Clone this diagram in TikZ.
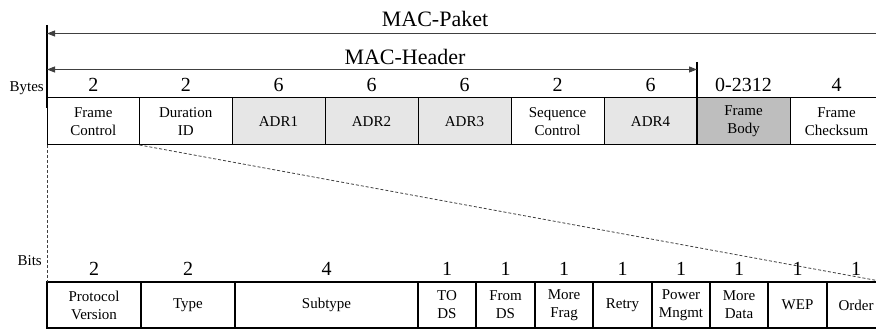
\documentclass[tikz,border=0pt]{standalone}
\usepackage{fontspec}
\setmainfont{Liberation Serif}
\usetikzlibrary{arrows.meta}
\definecolor{adrgrey}{HTML}{E6E6E6}
\definecolor{bodygrey}{HTML}{BEBEBE}
\definecolor{linegrey}{HTML}{404040}
\begin{document}
\begin{tikzpicture}[x=1pt,y=-1pt,
  field/.style={draw=black, line width=1pt, inner sep=0pt, outer sep=0pt,
    align=center, font=\fontsize{15}{18}\selectfont},
  bitfield/.style={field, line width=1.4pt},
  count/.style={anchor=base, inner sep=0pt, font=\fontsize{20}{24}\selectfont},
  rowlabel/.style={anchor=base east, inner sep=0pt, font=\fontsize{15}{18}\selectfont},
  title/.style={anchor=base, inner sep=0pt, font=\fontsize{22}{26}\selectfont},
  span/.style={draw=linegrey, line width=1pt},
  tip/.style={-{Triangle[length=8pt,width=6pt]}},
  zoomline/.style={draw=linegrey, line width=0.8pt, dash pattern=on 3pt off 2pt}]
\useasboundingbox (0,0) rectangle (876,331);
\clip (0,0) rectangle (876,331);

% MAC frame: byte fields
\foreach \a/\b/\txt/\col/\n [count=\i] in {
  47/139.5/{Frame\\Control}/white/2,
  139.5/232/{Duration\\ID}/white/2,
  232/325/ADR1/adrgrey/6,
  325/418/ADR2/adrgrey/6,
  418/511/ADR3/adrgrey/6,
  511/604/{Sequence\\Control}/white/2,
  604/697/ADR4/adrgrey/6,
  697/790/{Frame\\Body}/bodygrey/0-2312,
  790/883/{Frame\\Checksum}/white/4}{
  \node[field, fill=\col, minimum width=\b pt-\a pt, minimum height=47pt]
    (t\i) at ({(\a+\b)/2},121.5) {\txt};
  \node[count] (tn\i) at ({(\a+\b)/2},92) {\n};
}

% Frame Control: bit fields
\foreach \a/\b/\txt/\n [count=\i] in {
  47/141/{Protocol\\Version}/2,
  141/235/Type/2,
  235/418/Subtype/4,
  418/476/{TO\\DS}/1,
  476/535/{From\\DS}/1,
  535/593/{More\\Frag}/1,
  593/652/Retry/1,
  652/710/{Power\\Mngmt}/1,
  710/768/{More\\Data}/1,
  768/827/WEP/1,
  827/885/Order/1}{
  \node[bitfield, minimum width=\b pt-\a pt, minimum height=46pt]
    (b\i) at ({(\a+\b)/2},305) {\txt};
  \node[count] (bn\i) at ({(\a+\b)/2},276) {\n};
}

% row labels
\node[rowlabel] (bytes) at (44,92) {Bytes};
\node[rowlabel] (bits) at (42,266) {Bits};

% extent markers
\coordinate (pkL) at (47,33.5);
\coordinate (pkR) at (890,33.5);
\coordinate (hdL) at (47,69.5);
\coordinate (hdR) at (697,69.5);
\coordinate (leftTop) at (47,25);
\coordinate (leftBot) at (47,108);
\coordinate (hdTop) at (697,62);
\draw[line width=2pt] (leftTop) -- (leftBot);
\draw[line width=2.4pt] (hdTop) -- (t7.south east);
\draw[span, tip] (pkR) -- (pkL);
\draw[span, {Triangle[length=8pt,width=6pt]}-{Triangle[length=8pt,width=6pt]}] (hdL) -- (hdR);
\node[title] (paket) at (435,26.5) {MAC-Paket};
\node[title] (header) at (405,64.5) {MAC-Header};

% Frame Control expanded into its bits
\draw[zoomline] (t1.south west) -- (b1.north west);
\draw[zoomline] (t1.south east) -- (b11.north east);
\end{tikzpicture}
\end{document}
